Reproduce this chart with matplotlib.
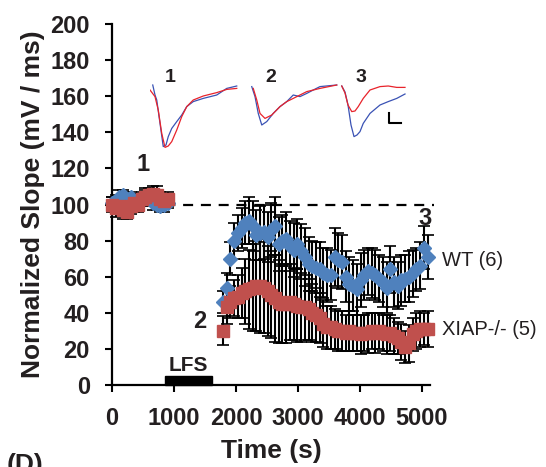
import matplotlib
matplotlib.use("Agg")
import matplotlib.pyplot as plt
from matplotlib.patches import Rectangle

plt.rcParams['font.family'] = ['Liberation Sans', 'DejaVu Sans']

TXT = '#231f20'
BLUE = '#4f81bd'
RED = '#c0504d'

# baseline (before LFS), time in s
base_t = [0, 60, 120, 180, 240, 300, 360, 420, 480, 540, 600, 660, 720, 780, 840, 900]
base_wt = [101, 102, 104, 105, 103, 104, 102, 101, 103, 104, 103, 101, 100, 99, 100, 101]
base_wt_err = [3, 3, 4, 3, 4, 3, 4, 3, 3, 4, 3, 4, 3, 3, 4, 3]
base_ko = [100, 98, 99, 97, 96, 99, 101, 100, 103, 104, 105, 106, 105, 103, 102, 103]
base_ko_err = [4, 5, 4, 5, 4, 4, 5, 4, 4, 5, 4, 4, 5, 4, 4, 4]

# after LFS
post_t = [1790, 1850, 1910, 1970, 2030, 2090, 2150, 2210, 2270, 2330, 2390, 2450,
          2510, 2570, 2630, 2690, 2750, 2810, 2870, 2930, 2990, 3050, 3110, 3170,
          3230, 3290, 3350, 3410, 3470, 3530, 3590, 3650, 3710, 3770, 3830, 3890,
          3950, 4010, 4070, 4130, 4190, 4250, 4310, 4370, 4430, 4490, 4550, 4610,
          4670, 4730, 4790, 4850, 4910, 4970, 5030, 5090]
wt = [46, 54, 70, 80, 84, 87, 90, 91, 88, 83, 84, 85, 82, 86, 88, 78, 80, 81, 77, 75,
      78, 74, 71, 67, 66, 65, 64, 62, 61, 61, 71, 69, 68, 60, 56, 55, 53, 58, 61, 63,
      62, 61, 59, 57, 54, 64, 57, 55, 58, 59, 60, 62, 64, 66, 76, 71]
wt_err = [6, 8, 9, 10, 10, 11, 12, 13, 14, 14, 15, 15, 14, 15, 16, 15, 14, 15, 14, 15,
          14, 15, 16, 15, 14, 14, 15, 14, 15, 14, 16, 15, 15, 14, 15, 14, 14, 15, 14, 13,
          14, 14, 13, 14, 14, 13, 14, 13, 14, 13, 14, 13, 12, 13, 12, 12]
ko = [30, 43, 46, 48, 49, 51, 52, 53, 54, 55, 55, 54, 52, 50, 48, 46, 45, 45, 46, 45,
      44, 43, 43, 42, 40, 39, 37, 34, 32, 32, 31, 30, 30, 29, 30, 29, 29, 28, 29, 29,
      30, 29, 30, 29, 28, 29, 27, 26, 24, 21, 23, 28, 30, 31, 31, 31]
ko_err = [8, 9, 9, 10, 12, 14, 18, 22, 24, 25, 26, 25, 25, 24, 24, 23, 22, 22, 21, 20,
          20, 19, 18, 17, 16, 15, 14, 13, 12, 12, 11, 11, 11, 10, 11, 10, 10, 11, 10, 11,
          10, 11, 10, 10, 11, 10, 10, 9, 10, 9, 10, 9, 10, 10, 9, 10]

lfs_start, lfs_end, lfs_h = 850, 1620, 5

# example fEPSP traces (ms, mV)
tr1_blue_t = [1.1, 2.0, 2.7, 4.0, 5.3, 6.4, 7.3, 8.7, 10.7, 12.7, 14.7, 17.3, 21.3, 26.7, 30.7, 34.7]
tr1_blue_v = [0, -0.5, -0.75, -1.92, -3.08, -3.0, -2.58, -2.17, -1.83, -1.5, -1.08, -0.83, -0.67, -0.5, -0.17, -0.05]
tr1_red_t = [0, 2.0, 3.3, 4.7, 6.0, 7.3, 8.7, 10.7, 12.7, 14.7, 17.3, 21.3, 26.7, 30.7, 34.7]
tr1_red_v = [-0.25, -0.58, -1.25, -2.42, -3.12, -3.05, -2.83, -2.25, -1.58, -1.08, -0.75, -0.55, -0.38, -0.22, -0.17]
tr2_blue_t = [0.3, 1.6, 2.9, 4.3, 6.3, 8.9, 11.6, 14.3, 16.9, 19.6, 22.3, 24.9, 27.6, 34.3]
tr2_blue_v = [-0.08, -0.58, -1.42, -2.0, -1.83, -1.42, -1.08, -0.83, -0.5, -0.58, -0.42, -0.25, -0.08, 0]
tr2_red_t = [0.9, 2.3, 3.6, 5.6, 8.3, 11.6, 14.3, 16.9, 19.6, 22.3, 27.6, 34.3]
tr2_red_v = [-0.17, -0.75, -1.42, -1.67, -1.5, -1.08, -0.83, -0.67, -0.5, -0.33, -0.17, 0]
tr3_blue_t = [0.3, 1.6, 2.8, 4.0, 5.2, 6.4, 7.6, 8.9, 11.6, 15.6, 18.9, 22.3, 25.6]
tr3_blue_v = [-0.05, -0.35, -1.0, -2.0, -2.58, -2.5, -2.33, -1.92, -1.42, -1.0, -0.83, -0.67, -0.45]
tr3_red_t = [0.3, 1.6, 2.8, 4.3, 5.6, 6.9, 8.9, 11.6, 15.6, 18.9, 22.3, 25.6]
tr3_red_v = [-0.05, -0.4, -1.0, -1.33, -1.3, -1.08, -0.67, -0.25, -0.08, -0.05, -0.12, -0.12]

W, H = 546, 467
fig = plt.figure(figsize=(W / 100, H / 100), dpi=100)
ax = fig.add_axes([112 / W, 1 - 385 / H, 318 / W, 361 / H])

eb = dict(fmt='none', ecolor='black', elinewidth=1.5, capsize=4.5, capthick=1.2, zorder=2, clip_on=False)
ax.errorbar(base_t, base_wt, yerr=base_wt_err, **eb)
ax.errorbar(base_t, base_ko, yerr=base_ko_err, **eb)
ax.errorbar(post_t, wt, yerr=wt_err, **eb)
ax.errorbar(post_t, ko, yerr=ko_err, **eb)

ax.plot(base_t, base_wt, 'D', color=BLUE, ms=7.5, mec=BLUE, zorder=3, clip_on=False)
ax.plot(post_t, wt, 'D', color=BLUE, ms=7.5, mec=BLUE, zorder=3, clip_on=False)
ax.plot(base_t, base_ko, 's', color=RED, ms=9, mec=RED, zorder=4, clip_on=False)
ax.plot(post_t, ko, 's', color=RED, ms=9, mec=RED, zorder=4, clip_on=False)

ax.plot([0, 5200], [100, 100], color='black', lw=1.6, ls=(0, (4.5, 3.5)), zorder=1, clip_on=False)
ax.add_patch(Rectangle((lfs_start, 0), lfs_end - lfs_start, lfs_h, color='black', clip_on=False, zorder=5))
ax.text((lfs_start + lfs_end) / 2, 11, 'LFS', ha='center', va='center', fontsize=15, fontweight='bold', color=TXT)

ax.text(500, 122, '1', ha='center', va='center', fontsize=17, fontweight='bold', color=TXT)
ax.text(1419, 35, '2', ha='center', va='center', fontsize=17, fontweight='bold', color=TXT)
ax.text(5048, 92.5, '3', ha='center', va='center', fontsize=17, fontweight='bold', color=TXT)
ax.text(5323, 69, 'WT (6)', ha='left', va='center', fontsize=14.5, color=TXT, clip_on=False)
ax.text(5323, 30.5, 'XIAP-/- (5)', ha='left', va='center', fontsize=14.5, color=TXT, clip_on=False)

ax.set_xlim(0, 5130)
ax.set_ylim(0, 200)
ax.set_xticks([0, 1000, 2000, 3000, 4000, 5000])
ax.set_yticks(range(0, 201, 20))
for s in ['top', 'right']:
    ax.spines[s].set_visible(False)
for s in ['left', 'bottom']:
    ax.spines[s].set_linewidth(1.6)
ax.tick_params(length=5, width=1.5, pad=11, labelsize=17, labelcolor=TXT)
for lab in ax.get_xticklabels() + ax.get_yticklabels():
    lab.set_fontweight('bold')
ax.set_xlabel('Time (s)', fontsize=19, fontweight='bold', color=TXT, labelpad=6)
ax.set_ylabel('Normalized Slope (mV / ms)', fontsize=19, fontweight='bold', color=TXT, labelpad=4)

# inset traces
traces = [(150, tr1_blue_t, tr1_blue_v, tr1_red_t, tr1_red_v),
          (251, tr2_blue_t, tr2_blue_v, tr2_red_t, tr2_red_v),
          (341, tr3_blue_t, tr3_blue_v, tr3_red_t, tr3_red_v)]
for i, (x0, bt, bv, rt, rv) in enumerate(traces):
    ia = fig.add_axes([x0 / W, 1 - 151 / H, 90 / W, 70 / H])
    ia.plot(bt, bv, color='#3a52b4', lw=0.9)
    ia.plot(rt, rv, color='#e8232b', lw=0.9)
    ia.set_xlim(0, 36)
    ia.set_ylim(-3.3, 0.2)
    ia.axis('off')
    fig.text((x0 + 20) / W, 1 - 78 / H, str(i + 1), ha='center', va='center',
             fontsize=14, fontweight='bold', color=TXT)
    if i == 2:
        ia.plot([19, 19, 24], [-1.4, -1.9, -1.9], color='black', lw=1.5)

fig.text(7 / W, 1 - 453 / H, '(D)', ha='left', va='top', fontsize=19, fontweight='bold', color=TXT)

fig.savefig('out.png', dpi=100)
